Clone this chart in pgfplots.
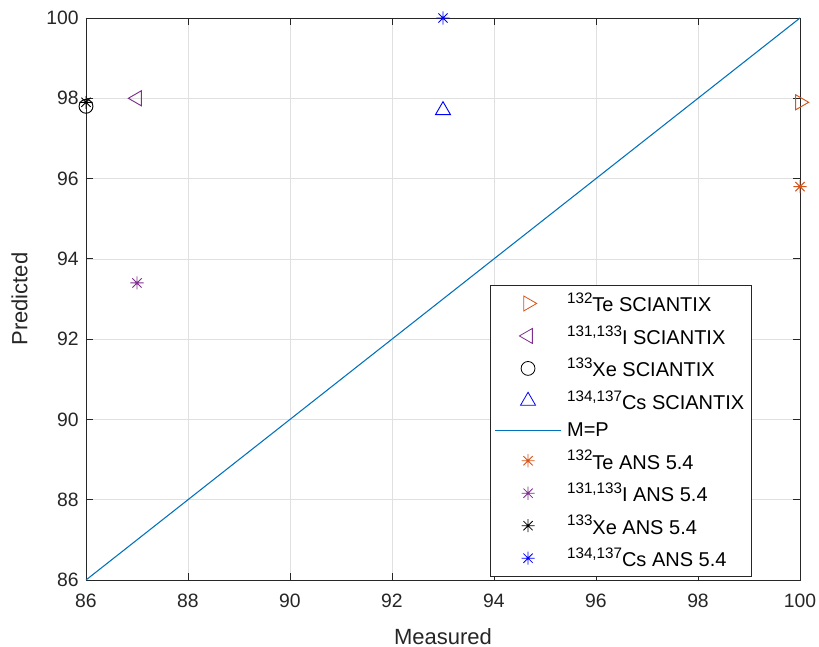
\documentclass[border=0pt]{standalone}
\usepackage{pgfplots}
\pgfplotsset{compat=1.18}
\usepackage{fontspec}
\setmainfont{Liberation Sans}
\definecolor{mOrange}{rgb}{0.850,0.325,0.098}
\definecolor{mPurple}{rgb}{0.494,0.184,0.556}
\definecolor{mLine}{rgb}{0,0.447,0.741}
\definecolor{axgray}{rgb}{0.15,0.15,0.15}
% MATLAB-like superscript (larger than \textsuperscript)
\newcommand{\sups}[1]{\raisebox{6.2pt}{\fontsize{11.4}{13}\selectfont #1}}
% MATLAB-like 8-armed asterisk
\pgfdeclareplotmark{mstar}{%
  \pgfpathmoveto{\pgfqpoint{-\pgfplotmarksize}{0pt}}\pgfpathlineto{\pgfqpoint{\pgfplotmarksize}{0pt}}%
  \pgfpathmoveto{\pgfqpoint{0pt}{-\pgfplotmarksize}}\pgfpathlineto{\pgfqpoint{0pt}{\pgfplotmarksize}}%
  \pgfpathmoveto{\pgfqpoint{-0.707\pgfplotmarksize}{-0.707\pgfplotmarksize}}\pgfpathlineto{\pgfqpoint{0.707\pgfplotmarksize}{0.707\pgfplotmarksize}}%
  \pgfpathmoveto{\pgfqpoint{-0.707\pgfplotmarksize}{0.707\pgfplotmarksize}}\pgfpathlineto{\pgfqpoint{0.707\pgfplotmarksize}{-0.707\pgfplotmarksize}}%
  \pgfusepathqstroke}
\begin{document}
\begin{tikzpicture}
\path[use as bounding box] (0,0) rectangle (614.25pt,485.25pt);
\begin{axis}[
    at={(64.5pt,50.25pt)}, anchor=south west,
    scale only axis,
    width=535.5pt, height=421.5pt,
    xmin=86, xmax=100, ymin=86, ymax=100,
    xtick={86,88,...,100}, ytick={86,88,...,100},
    grid=major,
    major grid style={draw=black!12, line width=0.5pt},
    axis line style={axgray, line width=0.6pt},
    tick style={axgray, line width=0.6pt},
    tick align=inside,
    major tick length=5.5pt,
    ticklabel style={font=\fontsize{14.5}{17}\selectfont, text=axgray},
    yticklabel style={xshift=-2pt},
    xticklabel style={yshift=-7pt},
    /pgf/number format/assume math mode=true,
    xlabel={Measured}, ylabel={Predicted},
    label style={font=\fontsize{16.5}{19}\selectfont, text=axgray},
    xlabel style={at={(axis description cs:0.5,-0.1139)}, anchor=base},
    ylabel style={at={(axis description cs:-0.0822,0.5)}, anchor=base},
    clip=false,
    legend style={
        at={(0.9328,0.0053)}, anchor=south east,
        font=\fontsize{15}{18}\selectfont,
        draw=axgray, line width=0.6pt,
        row sep=4.7pt,
        inner xsep=3.5pt, inner ysep=4pt,
        legend cell align=left,
        text=black,
        /tikz/every odd column/.append style={column sep=2.5pt},
    },
    legend image code/.code={%
        \draw[mark repeat=2,mark phase=2] plot coordinates {(0pt,0pt) (24.5pt,0pt) (49pt,0pt)};},
    legend image post style={line width=0.6pt},
    every axis plot/.append style={line width=0.7pt},
]
\addplot[only marks, mark=triangle, mark size=6.5pt, mark options={rotate=-90}, color=mOrange] coordinates {(100,97.9)};
\addlegendentry{\sups{132}Te SCIANTIX}
\addplot[only marks, mark=triangle, mark size=6.5pt, mark options={rotate=90}, color=mPurple] coordinates {(87,98.0)};
\addlegendentry{\sups{131,133}I SCIANTIX}
\addplot[only marks, mark=o, mark size=5.2pt, color=black] coordinates {(86,97.8)};
\addlegendentry{\sups{133}Xe SCIANTIX}
\addplot[only marks, mark=triangle, mark size=6.5pt, color=blue] coordinates {(93,97.7)};
\addlegendentry{\sups{134,137}Cs SCIANTIX}
\addplot[mLine, no marks, line width=0.8pt] coordinates {(86,86) (100,100)};
\addlegendentry{M=P}
\addplot[only marks, mark=mstar, mark size=4.9pt, color=mOrange] coordinates {(100,95.8)};
\addlegendentry{\sups{132}Te ANS 5.4}
\addplot[only marks, mark=mstar, mark size=4.9pt, color=mPurple] coordinates {(87,93.4)};
\addlegendentry{\sups{131,133}I ANS 5.4}
\addplot[only marks, mark=mstar, mark size=4.9pt, color=black] coordinates {(86,97.9)};
\addlegendentry{\sups{133}Xe ANS 5.4}
\addplot[only marks, mark=mstar, mark size=4.9pt, color=blue] coordinates {(93,100)};
\addlegendentry{\sups{134,137}Cs ANS 5.4}
\end{axis}
\end{tikzpicture}
\end{document}
